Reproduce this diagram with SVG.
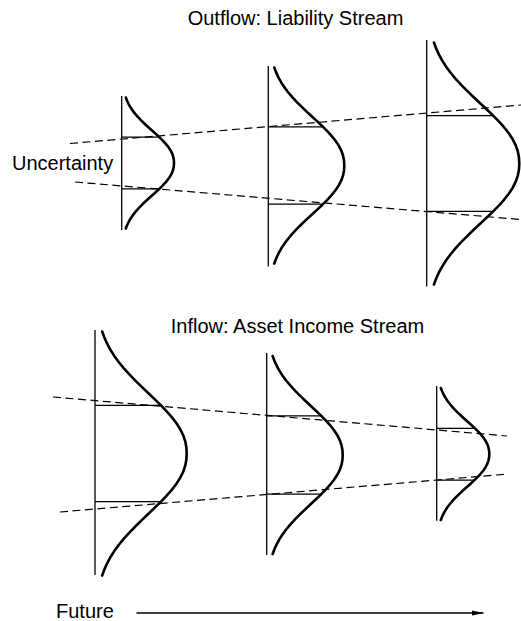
<svg xmlns="http://www.w3.org/2000/svg" xmlns:xlink="http://www.w3.org/1999/xlink" width="521" height="621" viewBox="0 0 521 621">
<style>
.axis{stroke:#000;stroke-width:1.3;fill:none}
.bell{stroke:#000;stroke-width:2.6;fill:none;stroke-linejoin:round;stroke-linecap:round}
.lvl{stroke:#000;stroke-width:1.2;fill:none}
.dash{stroke:#000;stroke-width:1.2;fill:none;stroke-dasharray:8 4.5}
.lbl{font-family:"Liberation Sans",Arial,sans-serif;font-size:20px;fill:#000}
.arr{stroke:#000;stroke-width:1.3;fill:none}
</style>
<defs>
<path id="bell" class="bell" vector-effect="non-scaling-stroke" d="M0.0782,-1 L0.1026,-0.95 L0.1324,-0.9 L0.1682,-0.85 L0.210,-0.8 L0.2583,-0.75 L0.3126,-0.7 L0.3723,-0.65 L0.437,-0.6 L0.5045,-0.55 L0.574,-0.5 L0.644,-0.45 L0.712,-0.4 L0.7764,-0.35 L0.835,-0.3 L0.8863,-0.25 L0.929,-0.2 L0.9616,-0.15 L0.984,-0.1 L0.9965,-0.05 L1,0 L0.9965,0.05 L0.984,0.1 L0.9616,0.15 L0.929,0.2 L0.8863,0.25 L0.835,0.3 L0.7764,0.35 L0.712,0.4 L0.644,0.45 L0.574,0.5 L0.5045,0.55 L0.437,0.6 L0.3723,0.65 L0.3126,0.7 L0.2583,0.75 L0.210,0.8 L0.1682,0.85 L0.1324,0.9 L0.1026,0.95 L0.0782,1"/>
<marker id="ah" markerWidth="12" markerHeight="6" refX="11.5" refY="3" orient="auto" markerUnits="userSpaceOnUse">
<path d="M0,0.5 L11.5,3 L0,5.5 Z" fill="#000"/>
</marker>
</defs>
<rect width="521" height="621" fill="#fff"/>

<g id="labels">
<text class="lbl" x="295.5" y="25" text-anchor="middle">Outflow: Liability Stream</text>
<text class="lbl" x="12" y="169.5">Uncertainty</text>
<text class="lbl" x="297.5" y="332.5" text-anchor="middle">Inflow: Asset Income Stream</text>
<text class="lbl" x="56" y="618">Future</text>
</g>

<g id="connectors">
<line class="dash" x1="70" y1="143.5" x2="521" y2="105"/>
<line class="dash" x1="75" y1="182" x2="521" y2="219.5"/>
<line class="dash" x1="53" y1="397" x2="507" y2="436"/>
<line class="dash" x1="60" y1="512" x2="508" y2="474"/>
<line class="arr" x1="136.5" y1="613" x2="483.5" y2="613" marker-end="url(#ah)"/>
</g>

<g id="out-1">
<line class="axis" x1="121.7" y1="96" x2="121.7" y2="230"/>
<line class="lvl" x1="121.7" y1="137.1" x2="159.3" y2="137.1"/>
<line class="lvl" x1="121.7" y1="188.9" x2="159.3" y2="188.9"/>
<use xlink:href="#bell" transform="matrix(52.3 0 0 65.5 121.7 163)"/>
</g>

<g id="out-2">
<line class="axis" x1="268.3" y1="66" x2="268.3" y2="266.5"/>
<line class="lvl" x1="268.3" y1="126.8" x2="323" y2="126.8"/>
<line class="lvl" x1="268.3" y1="204.2" x2="323" y2="204.2"/>
<use xlink:href="#bell" transform="matrix(76 0 0 98 268.3 165.5)"/>
</g>

<g id="out-3">
<line class="axis" x1="426.7" y1="40" x2="426.7" y2="286.5"/>
<line class="lvl" x1="426.7" y1="115.7" x2="493.2" y2="115.7"/>
<line class="lvl" x1="426.7" y1="211.3" x2="493.2" y2="211.3"/>
<use xlink:href="#bell" transform="matrix(92.6 0 0 121 426.7 163.5)"/>
</g>

<g id="in-1">
<line class="axis" x1="95" y1="330" x2="95" y2="575"/>
<line class="lvl" x1="95" y1="405.3" x2="160.9" y2="405.3"/>
<line class="lvl" x1="95" y1="501.7" x2="160.9" y2="501.7"/>
<use xlink:href="#bell" transform="matrix(91.7 0 0 122 95 453.5)"/>
</g>

<g id="in-2">
<line class="axis" x1="266.7" y1="353" x2="266.7" y2="555"/>
<line class="lvl" x1="266.7" y1="415.9" x2="321.3" y2="415.9"/>
<line class="lvl" x1="266.7" y1="494.1" x2="321.3" y2="494.1"/>
<use xlink:href="#bell" transform="matrix(76 0 0 99 266.7 455)"/>
</g>

<g id="in-3">
<line class="axis" x1="436.7" y1="386" x2="436.7" y2="520.7"/>
<line class="lvl" x1="436.7" y1="428.3" x2="474.5" y2="428.3"/>
<line class="lvl" x1="436.7" y1="480.1" x2="474.5" y2="480.1"/>
<use xlink:href="#bell" transform="matrix(52.6 0 0 66 436.7 454)"/>
</g>
</svg>
